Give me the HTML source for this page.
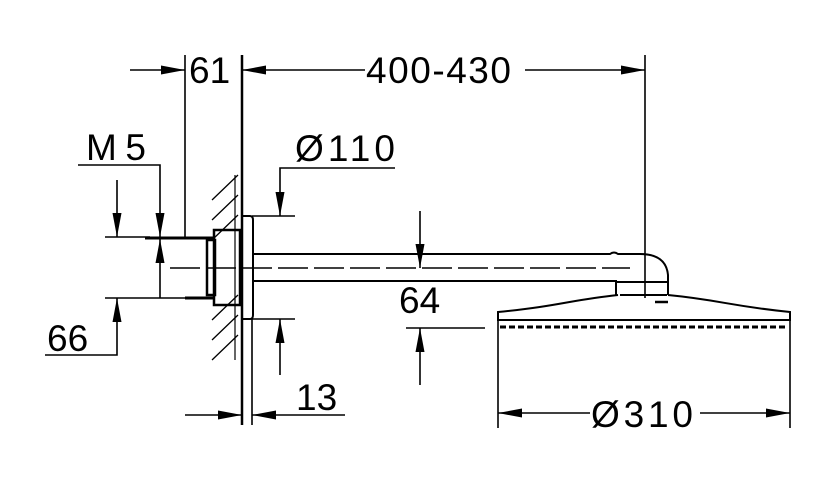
<!DOCTYPE html>
<html><head><style>body{margin:0;background:#fff}svg{display:block}text{font-family:"Liberation Sans",sans-serif;font-size:37px;fill:#000}</style></head><body>
<svg width="834" height="492" viewBox="0 0 834 492" xmlns="http://www.w3.org/2000/svg">
<defs><marker id="b" viewBox="0 0 24 10" refX="24" refY="5" markerWidth="24" markerHeight="10" markerUnits="userSpaceOnUse" orient="auto"><path d="M0,0.5L24,5L0,9.5z"/></marker></defs>
<g stroke="#000" stroke-width="1.6" fill="none">
<line x1="185" y1="55" x2="185" y2="237"/>
<line x1="242" y1="55" x2="242" y2="425" stroke-width="2.5"/>
<line x1="645" y1="55" x2="645" y2="298"/>
<line x1="252" y1="319" x2="252" y2="425"/>
<line x1="498" y1="320" x2="498" y2="428"/>
<line x1="790" y1="320" x2="790" y2="428"/>
<line x1="130" y1="70" x2="185" y2="70" marker-end="url(#b)"/>
<line x1="365" y1="70" x2="242" y2="70" marker-end="url(#b)"/>
<line x1="525" y1="70" x2="645" y2="70" marker-end="url(#b)"/>
<polyline points="78,165 160,165 160,237" marker-end="url(#b)"/>
<line x1="160" y1="298" x2="160" y2="239" marker-end="url(#b)"/>
<line x1="117" y1="180" x2="117" y2="237" marker-end="url(#b)"/>
<line x1="105" y1="237" x2="150" y2="237"/>
<line x1="105" y1="298" x2="185" y2="298"/>
<polyline points="45,355 117,355 117,298" marker-end="url(#b)"/>
<polyline points="395,168 280,168 280,216" marker-end="url(#b)"/>
<line x1="252" y1="216" x2="295" y2="216"/>
<line x1="252" y1="319" x2="295" y2="319"/>
<line x1="280" y1="375" x2="280" y2="319" marker-end="url(#b)"/>
<line x1="185" y1="415" x2="242" y2="415" marker-end="url(#b)"/>
<line x1="345" y1="415" x2="252" y2="415" marker-end="url(#b)"/>
<line x1="420" y1="211" x2="420" y2="268" marker-end="url(#b)"/>
<line x1="420" y1="385" x2="420" y2="328" marker-end="url(#b)"/>
<line x1="406" y1="328" x2="485" y2="328"/>
<line x1="590" y1="413" x2="498" y2="413" marker-end="url(#b)"/>
<line x1="700" y1="413" x2="790" y2="413" marker-end="url(#b)"/>
<g stroke-width="1.3">
<line x1="212" y1="200" x2="238" y2="175"/><line x1="212" y1="220" x2="238" y2="195"/><line x1="212" y1="240" x2="238" y2="215"/>
<line x1="212" y1="320" x2="238" y2="295"/><line x1="212" y1="340" x2="238" y2="315"/><line x1="212" y1="360" x2="238" y2="335"/>
</g>
<line x1="235" y1="175" x2="235" y2="360" stroke-width="1.2"/>
<rect x="214" y="230" width="26" height="75" stroke-width="2.5"/>
<rect x="207" y="240" width="8" height="55" stroke-width="2.5"/>
<line x1="145" y1="238" x2="214" y2="238" stroke-width="3"/>
<line x1="185" y1="298" x2="214" y2="298" stroke-width="3"/>
<line x1="170" y1="268" x2="630" y2="268" stroke-dasharray="30,6"/>
<path d="M242,216 H250 Q253,216 253,220 V315 Q253,319 250,319 H242" stroke-width="2"/>
<path d="M254,254 H610 Q614,251 618,254 H640 Q666,254 668,275 V295 M254,281 H616 V295" stroke-width="2"/>
<line x1="615" y1="282" x2="668" y2="282" stroke-width="2"/>
<line x1="620" y1="295" x2="667" y2="295" stroke-width="2"/>
<path d="M618,295 C570,300 560,306 498,312 V320 H790 V312 C730,306 720,300 668,295" stroke-width="2"/>
<line x1="498" y1="320" x2="790" y2="320" stroke-width="2"/>
<line x1="500" y1="327" x2="788" y2="327" stroke-width="3" stroke-dasharray="6,3"/>
<line x1="655" y1="302" x2="668" y2="302" stroke-width="2.5"/>
</g>
<text x="189" y="83">61</text>
<text x="366" y="83" textLength="145">400-430</text>
<text x="86" y="160" textLength="60">M 5</text>
<text x="47" y="351">66</text>
<text x="295" y="161" textLength="100">Ø110</text>
<text x="399" y="313">64</text>
<text x="296" y="410">13</text>
<text x="591" y="427" textLength="102">Ø310</text>
</svg>
</body></html>
